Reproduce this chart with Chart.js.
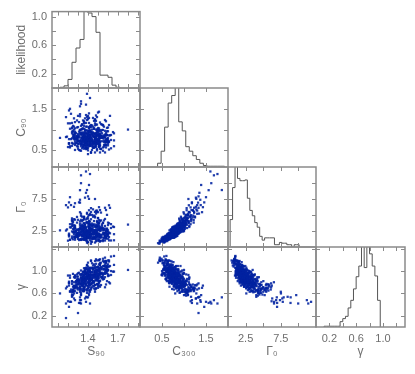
<!DOCTYPE html>
<html>
<head>
<meta charset="UTF-8">
<title>Corner plot</title>
<script src="https://cdn.jsdelivr.net/npm/chart.js"></script>
<style>
  body { margin: 0; background: #fff; }
  #wrap { position: relative; width: 415px; height: 374px; }
  #wrap canvas { position: absolute; left: 0; top: 0; }
</style>
</head>
<body>
<div id="wrap"></div>
<script>
// ---- chain samples, one entry per sample, same order in every array ----
const S90 = [
  1.43,1.40,1.47,1.44,1.52,1.55,1.57,1.31,1.33,1.39, 1.43,1.52,1.49,1.61,1.22,1.32,1.30,1.40,1.40,1.39,
  1.66,1.27,1.35,1.36,1.45,1.41,1.49,1.48,1.53,1.51, 1.37,1.37,1.38,1.47,1.46,1.51,1.51,1.63,1.22,1.34,
  1.39,1.45,1.42,1.53,1.57,1.20,1.33,1.33,1.38,1.37, 1.58,1.58,1.29,1.31,1.38,1.36,1.44,1.45,1.45,1.56,
  1.27,1.35,1.33,1.42,1.37,1.47,1.44,1.52,1.52,1.24, 1.42,1.42,1.51,1.50,1.56,1.58,1.30,1.29,1.40,1.37,
  1.49,1.48,1.60,1.24,1.27,1.39,1.36,1.42,1.41,1.48, 1.25,1.37,1.36,1.42,1.39,1.48,1.49,1.49,1.60,1.61,
  1.40,1.39,1.47,1.43,1.52,1.51,1.60,1.21,1.33,1.35, 1.41,1.51,1.50,1.59,1.21,1.32,1.30,1.39,1.37,1.42,
  1.57,1.29,1.33,1.34,1.44,1.42,1.47,1.46,1.54,1.52, 1.35,1.34,1.39,1.37,1.45,1.47,1.47,1.61,1.21,1.31,
  1.42,1.51,1.47,1.58,1.58,1.27,1.29,1.38,1.40,1.39, 1.56,1.57,1.26,1.28,1.37,1.34,1.43,1.40,1.46,1.44,
  1.36,1.38,1.38,1.48,1.45,1.51,1.50,1.59,1.59,1.31, 1.39,1.44,1.42,1.51,1.53,1.56,1.29,1.30,1.37,1.36,
  1.50,1.48,1.60,1.21,1.30,1.29,1.38,1.39,1.38,1.48, 1.26,1.35,1.35,1.43,1.40,1.48,1.46,1.52,1.51,1.63,
  1.36,1.35,1.45,1.42,1.49,1.48,1.59,1.19,1.32,1.30, 1.48,1.47,1.56,1.60,1.24,1.36,1.36,1.41,1.40,1.48,
  1.55,1.27,1.28,1.35,1.33,1.42,1.42,1.42,1.52,1.51, 1.40,1.39,1.47,1.43,1.52,1.50,1.57,1.58,1.30,1.34,
  1.40,1.50,1.48,1.55,1.57,1.28,1.28,1.38,1.36,1.42, 1.47,1.59,1.23,1.26,1.37,1.35,1.41,1.39,1.47,1.44,
  1.36,1.35,1.41,1.39,1.47,1.48,1.48,1.59,1.60,1.29, 1.37,1.43,1.40,1.50,1.48,1.58,1.18,1.31,1.32,1.33,
  1.54,1.54,1.62,1.25,1.35,1.34,1.42,1.41,1.45,1.44, 1.26,1.30,1.31,1.41,1.39,1.44,1.43,1.51,1.49,1.61,
  1.39,1.45,1.42,1.51,1.52,1.53,1.66,1.27,1.36,1.36, 1.49,1.46,1.56,1.57,1.26,1.27,1.37,1.38,1.38,1.47,
  1.56,1.25,1.27,1.36,1.33,1.42,1.39,1.45,1.43,1.53, 1.37,1.37,1.47,1.44,1.50,1.49,1.58,1.58,1.30,1.31,
  1.41,1.40,1.48,1.51,1.53,1.26,1.28,1.34,1.34,1.41, 1.51,1.63,1.25,1.33,1.33,1.41,1.43,1.41,1.52,1.49,
  1.32,1.32,1.40,1.37,1.45,1.43,1.49,1.48,1.60,1.24, 1.41,1.50,1.48,1.54,1.54,1.65,1.25,1.37,1.36,1.42,
  1.45,1.55,1.59,1.22,1.35,1.34,1.40,1.39,1.46,1.43, 1.26,1.27,1.34,1.32,1.41,1.41,1.41,1.51,1.50,1.59,
  1.38,1.46,1.42,1.51,1.49,1.56,1.57,1.29,1.33,1.34, 1.45,1.44,1.50,1.52,1.24,1.24,1.33,1.32,1.38,1.35,
  1.60,1.25,1.27,1.39,1.36,1.42,1.41,1.48,1.46,1.55, 1.30,1.36,1.34,1.42,1.43,1.43,1.54,1.55,1.24,1.26,
  1.47,1.44,1.53,1.52,1.61,1.22,1.34,1.36,1.36,1.46, 1.49,1.58,1.20,1.31,1.29,1.38,1.36,1.41,1.39,1.48,
  1.26,1.27,1.37,1.35,1.40,1.39,1.47,1.45,1.57,1.18, 1.41,1.38,1.47,1.48,1.49,1.62,1.23,1.32,1.32,1.40,
  1.41,1.50,1.51,1.21,1.22,1.32,1.33,1.33,1.42,1.39, 1.18,1.30,1.24,1.58,1.47,1.66,1.38,1.12,1.55,1.80
];
const C300 = [
  0.44,0.41,0.45,0.51,0.45,0.49,0.45,0.51,0.49,0.55, 0.46,0.54,0.50,0.52,0.57,0.50,0.54,0.50,0.56,0.54,
  0.60,0.51,0.59,0.54,0.56,0.60,0.53,0.58,0.53,0.59, 0.56,0.62,0.53,0.61,0.56,0.58,0.62,0.55,0.60,0.55,
  0.61,0.58,0.64,0.54,0.63,0.58,0.60,0.64,0.57,0.61, 0.57,0.63,0.60,0.66,0.56,0.64,0.60,0.62,0.66,0.59,
  0.63,0.58,0.65,0.62,0.68,0.58,0.66,0.61,0.63,0.68, 0.61,0.65,0.60,0.66,0.63,0.69,0.59,0.68,0.63,0.65,
  0.69,0.62,0.66,0.61,0.67,0.64,0.71,0.61,0.69,0.64, 0.66,0.70,0.63,0.67,0.62,0.69,0.66,0.72,0.62,0.70,
  0.65,0.67,0.71,0.64,0.69,0.64,0.70,0.67,0.73,0.63, 0.71,0.66,0.68,0.72,0.66,0.70,0.65,0.71,0.68,0.74,
  0.64,0.72,0.67,0.69,0.74,0.67,0.71,0.66,0.72,0.69, 0.75,0.65,0.73,0.68,0.71,0.75,0.68,0.72,0.67,0.73,
  0.70,0.76,0.66,0.74,0.70,0.72,0.76,0.69,0.73,0.68, 0.74,0.71,0.77,0.67,0.76,0.71,0.73,0.77,0.70,0.74,
  0.69,0.75,0.72,0.78,0.69,0.77,0.72,0.74,0.78,0.71, 0.75,0.70,0.76,0.73,0.80,0.70,0.78,0.73,0.75,0.79,
  0.72,0.76,0.71,0.77,0.74,0.81,0.71,0.79,0.74,0.76, 0.80,0.73,0.77,0.72,0.78,0.75,0.82,0.72,0.80,0.75,
  0.77,0.81,0.74,0.78,0.73,0.79,0.76,0.83,0.73,0.81, 0.76,0.78,0.82,0.75,0.79,0.74,0.80,0.77,0.84,0.74,
  0.82,0.77,0.79,0.83,0.76,0.80,0.75,0.81,0.79,0.85, 0.75,0.83,0.78,0.80,0.84,0.77,0.81,0.76,0.82,0.80,
  0.86,0.76,0.84,0.79,0.81,0.85,0.78,0.82,0.77,0.83, 0.80,0.87,0.77,0.85,0.80,0.82,0.86,0.79,0.83,0.78,
  0.84,0.81,0.87,0.78,0.86,0.81,0.83,0.87,0.80,0.84, 0.79,0.85,0.82,0.88,0.78,0.87,0.82,0.84,0.88,0.81,
  0.85,0.80,0.86,0.83,0.89,0.79,0.87,0.83,0.85,0.89, 0.82,0.86,0.81,0.87,0.84,0.90,0.80,0.88,0.84,0.86,
  0.90,0.83,0.87,0.82,0.88,0.85,0.91,0.81,0.89,0.85, 0.87,0.91,0.84,0.88,0.83,0.89,0.86,0.92,0.82,0.90,
  0.86,0.88,0.92,0.85,0.89,0.84,0.90,0.87,0.94,0.84, 0.92,0.87,0.89,0.93,0.86,0.91,0.86,0.92,0.89,0.95,
  0.85,0.93,0.89,0.91,0.95,0.88,0.92,0.87,0.93,0.91, 0.97,0.87,0.95,0.90,0.92,0.97,0.90,0.94,0.89,0.95,
  0.92,0.99,0.89,0.97,0.92,0.94,0.98,0.92,0.96,0.91, 0.97,0.94,1.00,0.91,0.99,0.94,0.96,1.00,0.93,0.98,
  0.93,0.99,0.96,1.02,0.92,1.01,0.96,0.98,1.02,0.95, 1.00,0.95,1.01,0.98,1.04,0.95,1.03,0.98,1.00,1.04,
  0.98,1.02,0.97,1.03,1.00,1.07,0.97,1.05,1.00,1.02, 1.07,1.00,1.04,0.99,1.05,1.03,1.09,0.99,1.07,1.03,
  1.05,1.09,1.03,1.07,1.02,1.09,1.06,1.12,1.03,1.11, 1.06,1.09,1.13,1.06,1.11,1.06,1.12,1.10,1.16,1.07,
  1.15,1.10,1.13,1.17,1.11,1.15,1.11,1.17,1.15,1.21, 1.12,1.20,1.15,1.18,1.22,1.16,1.20,1.16,1.23,1.21,
  1.27,1.18,1.27,1.22,1.25,1.30,1.23,1.28,1.23,1.30, 1.28,1.35,1.25,1.34,1.30,1.33,1.38,1.32,1.37,1.33,
  1.39,1.41,1.43,1.46,1.50,1.56,1.62,1.68,1.76,1.86, 2.30,1.33,0.95,0.62,1.10,0.74,1.60,0.80,0.57,1.00
];
const GAMMA0 = [
  0.51,0.60,0.70,0.81,0.88,0.92,1.01,1.08,1.25,0.68, 0.85,0.90,0.99,1.03,1.12,1.19,1.27,1.47,0.80,0.92,
  1.05,1.14,1.19,1.25,1.32,1.42,1.57,0.89,0.98,1.06, 1.18,1.23,1.34,1.42,1.52,1.69,0.92,1.02,1.14,1.20,
  1.32,1.39,1.47,1.57,1.74,0.99,1.10,1.18,1.25,1.32, 1.48,1.57,1.68,1.86,1.02,1.13,1.21,1.33,1.40,1.46,
  1.62,1.74,1.99,1.09,1.21,1.30,1.37,1.45,1.51,1.64, 1.86,2.06,1.12,1.25,1.34,1.42,1.50,1.61,1.69,1.79,
  2.13,1.16,1.29,1.38,1.47,1.55,1.66,1.74,1.84,1.98, 1.20,1.33,1.43,1.51,1.59,1.71,1.80,1.90,2.03,2.26,
  1.37,1.47,1.56,1.64,1.76,1.85,1.95,2.09,2.32,1.27, 1.51,1.60,1.69,1.76,1.90,2.01,2.15,2.39,1.30,1.45,
  1.65,1.74,1.81,1.90,2.06,2.21,2.46,1.34,1.49,1.60, 1.79,1.86,1.95,2.06,2.28,2.53,1.38,1.54,1.65,1.75,
  1.92,2.02,2.13,2.28,2.60,1.42,1.58,1.69,1.79,1.89, 2.07,2.19,2.34,2.60,1.46,1.62,1.75,1.85,1.95,2.03,
  2.25,2.42,2.68,1.46,1.66,1.79,1.89,2.00,2.08,2.18, 2.48,2.75,1.50,1.66,1.84,1.95,2.05,2.14,2.25,2.38,
  2.82,1.54,1.71,1.84,1.95,2.10,2.19,2.30,2.43,2.61, 1.58,1.75,1.88,1.99,2.10,2.19,2.36,2.50,2.68,2.97,
  1.80,1.94,2.05,2.16,2.25,2.36,2.50,2.75,3.05,1.66, 1.99,2.10,2.22,2.31,2.43,2.56,2.75,3.05,1.71,1.90,
  2.16,2.28,2.37,2.49,2.63,2.82,3.13,1.71,1.94,2.09, 2.33,2.43,2.55,2.70,2.89,3.21,1.75,1.94,2.09,2.27,
  2.49,2.61,2.76,2.96,3.29,1.79,1.99,2.14,2.27,2.39, 2.61,2.84,3.05,3.38,1.84,2.05,2.20,2.33,2.46,2.56,
  2.84,3.05,3.38,1.89,2.10,2.25,2.38,2.52,2.62,2.75, 3.12,3.46,1.89,2.10,2.25,2.44,2.57,2.68,2.81,2.97,
  3.54,1.93,2.14,2.30,2.44,2.57,2.68,2.89,3.05,3.27, 1.98,2.20,2.37,2.50,2.64,2.75,2.89,3.05,3.34,3.71,
  2.25,2.42,2.56,2.70,2.81,2.95,3.12,3.34,3.71,2.07, 2.48,2.62,2.76,2.88,3.02,3.20,3.43,3.80,2.07,2.30,
  2.68,2.82,2.94,3.09,3.26,3.50,3.88,2.12,2.41,2.59, 2.89,3.01,3.16,3.34,3.58,4.07,2.22,2.46,2.65,2.80,
  3.08,3.23,3.50,3.75,4.16,2.27,2.52,2.71,2.87,3.09, 3.38,3.57,3.83,4.25,2.32,2.63,2.83,2.99,3.16,3.29,
  3.65,4.00,4.44,2.42,2.69,2.89,3.06,3.29,3.43,3.60, 4.08,4.53,2.47,2.80,3.01,3.19,3.36,3.50,3.68,3.97,
  4.73,2.58,2.86,3.08,3.26,3.50,3.65,3.83,4.05,4.34, 2.68,2.98,3.20,3.39,3.57,3.80,3.99,4.22,4.52,5.02,
  3.10,3.34,3.53,3.72,3.88,4.15,4.38,4.70,5.21,2.84, 3.47,3.67,3.87,4.03,4.23,4.47,4.89,5.43,2.96,3.35,
  3.81,4.02,4.27,4.48,4.74,5.18,5.74,3.13,3.54,3.81, 4.25,4.51,4.74,5.01,5.47,6.07,3.31,3.74,4.02,4.34,
  4.77,5.01,5.38,5.77,6.52,3.56,4.02,4.33,4.65,4.91, 5.46,5.77,6.19,6.98,3.81,4.30,4.63,4.98,5.34,5.66,
  6.28,6.84,7.71,4.20,4.75,5.19,5.49,5.88,6.13,6.54, 7.52,8.47,4.62,5.22,5.69,6.12,6.55,6.93,7.38,7.91,
  9.69,5.44,6.22,6.97,7.78,8.88,9.97,11.2,11.4,8.90, 15.0,14.0,3.30,1.30,7.50,2.00,11.8,2.60,1.10,3.50
];
const GAMMA = [
  1.19,1.15,1.18,1.14,1.21,1.22,1.24,0.97,0.93,1.10, 1.18,1.14,1.19,1.19,0.92,0.94,0.96,1.00,1.08,1.11,
  1.27,0.92,0.99,0.97,1.04,1.03,1.02,1.21,1.15,1.20, 1.02,0.99,1.03,0.99,1.06,1.04,1.19,1.26,0.88,0.95,
  1.05,1.02,1.06,1.04,1.12,0.92,0.94,1.01,0.96,1.00, 1.15,1.15,0.85,0.83,1.06,1.05,1.05,1.10,1.04,1.09,
  0.90,0.86,0.88,1.00,1.05,1.05,1.06,1.13,1.10,0.81, 0.98,0.93,1.12,1.08,1.16,1.18,0.85,0.94,0.90,0.94,
  1.00,1.13,1.19,0.82,0.92,0.93,0.93,0.99,0.92,0.96, 0.95,0.94,0.99,0.95,1.03,1.01,1.01,1.07,1.02,1.08,
  1.02,0.98,1.01,0.98,1.05,1.05,1.08,0.81,0.77,0.98, 1.05,1.01,1.07,1.06,0.79,0.81,0.82,0.88,0.98,1.00,
  1.18,0.81,0.89,0.86,0.93,0.92,0.90,1.12,1.06,1.11, 0.90,0.87,0.92,0.87,0.94,0.92,1.09,1.17,0.78,0.85,
  0.99,0.96,1.00,0.97,1.06,0.88,0.90,0.97,0.91,0.95, 1.04,1.03,0.74,0.72,0.96,0.94,0.94,0.99,0.93,0.98,
  0.86,0.83,0.86,0.99,1.04,1.02,1.03,1.10,1.07,0.79, 0.90,0.84,1.05,1.00,1.07,1.09,0.76,0.85,0.81,0.86,
  0.92,1.06,1.12,0.74,0.84,0.84,0.85,0.91,0.85,0.89, 0.89,0.87,0.91,0.87,0.95,0.94,0.94,1.00,0.95,1.00,
  0.93,0.89,0.92,0.89,0.97,0.97,1.00,0.72,0.68,0.90, 1.01,0.98,1.03,1.02,0.77,0.79,0.79,0.84,0.95,0.97,
  1.09,0.72,0.79,0.77,0.84,0.83,0.81,1.04,0.96,1.01, 0.89,0.86,0.90,0.86,0.92,0.91,1.08,1.16,0.76,0.83,
  0.92,0.88,0.93,0.89,0.98,0.81,0.82,0.89,0.84,0.88, 0.98,0.96,0.67,0.64,0.89,0.87,0.87,0.93,0.87,0.92,
  0.79,0.76,0.79,0.92,0.97,0.96,0.96,1.03,1.01,0.72, 0.82,0.76,0.97,0.92,1.00,1.02,0.69,0.78,0.73,0.77,
  0.89,1.03,1.09,0.72,0.82,0.82,0.83,0.88,0.82,0.86, 0.80,0.78,0.83,0.79,0.87,0.85,0.86,0.92,0.87,0.92,
  0.93,0.89,0.92,0.88,0.96,0.96,0.99,0.72,0.67,0.89, 0.95,0.91,0.96,0.95,0.69,0.71,0.72,0.77,0.88,0.91,
  1.03,0.66,0.73,0.70,0.78,0.76,0.74,0.98,0.90,0.95, 0.83,0.79,0.83,0.79,0.86,0.83,1.01,1.09,0.70,0.77,
  0.84,0.81,0.84,0.80,0.89,0.73,0.75,0.81,0.75,0.79, 0.95,0.93,0.63,0.61,0.87,0.84,0.84,0.89,0.83,0.89,
  0.70,0.66,0.69,0.83,0.88,0.87,0.87,0.94,0.91,0.62, 0.79,0.73,0.96,0.90,0.97,0.99,0.67,0.76,0.71,0.74,
  0.80,0.95,1.01,0.63,0.73,0.73,0.73,0.79,0.73,0.77, 0.72,0.69,0.75,0.71,0.77,0.76,0.76,0.82,0.77,0.82,
  0.83,0.79,0.82,0.78,0.86,0.86,0.89,0.61,0.57,0.80, 0.82,0.78,0.83,0.82,0.56,0.58,0.58,0.63,0.75,0.77,
  0.94,0.57,0.64,0.61,0.68,0.66,0.65,0.89,0.81,0.85, 0.67,0.64,0.68,0.63,0.70,0.67,0.87,0.93,0.54,0.60,
  0.75,0.71,0.75,0.72,0.80,0.64,0.65,0.72,0.65,0.69, 0.77,0.76,0.46,0.43,0.69,0.67,0.67,0.71,0.65,0.69,
  0.51,0.48,0.51,0.64,0.69,0.67,0.67,0.74,0.71,0.42, 0.60,0.54,0.75,0.69,0.76,0.78,0.45,0.53,0.48,0.53,
  0.57,0.70,0.74,0.36,0.45,0.43,0.42,0.48,0.42,0.53, 0.16,0.25,0.64,1.17,0.63,1.11,0.45,0.60,1.18,1.02
];

// ---- marginal histograms: bin edges and bin heights ----
const S90_EDGES = [1.12,1.16,1.20,1.24,1.28,1.32,1.36,1.40,1.44,1.48,1.52,1.56,1.60,1.64,1.68,1.72];
const S90_HIST  = [0.01,0.03,0.12,0.36,0.56,0.68,1.10,1.05,1.00,0.78,0.18,0.18,0.15,0.04,0.01];
const C300_EDGES = [0.40,0.48,0.56,0.64,0.72,0.80,0.88,0.96,1.04,1.12,1.20,1.28,1.36,1.44,1.52,1.60,1.68,1.76,1.84,1.92];
const C300_HIST  = [0.05,0.21,0.53,0.85,0.95,1.10,0.60,0.48,0.27,0.21,0.15,0.10,0.05,0.02,0.01,0.01,0.01,0.01,0.01];
const G0_EDGES = [0.30,0.65,1.00,1.35,1.70,2.05,2.40,2.75,3.10,3.45,3.80,4.15,4.50,4.85,5.20,5.55,5.90,6.25,6.60,6.95,7.30,7.65,8.00,8.35,8.70,9.05,9.40,9.75,10.1];
const G0_HIST  = [0.36,0.78,1.10,0.90,0.87,0.87,0.88,0.64,0.48,0.41,0.32,0.26,0.14,0.09,0.12,0.12,0.12,0.12,0.03,0.03,0.06,0.05,0.05,0.03,0.03,0.00,0.03,0.03];
const GAM_EDGES = [0.12,0.16,0.20,0.24,0.28,0.32,0.36,0.40,0.44,0.48,0.52,0.56,0.60,0.64,0.68,0.72,0.76,0.80,0.84,0.88,0.92,0.96];
const GAM_HIST  = [0.01,0.01,0.01,0.01,0.01,0.01,0.07,0.11,0.14,0.25,0.35,0.50,0.66,0.80,1.10,0.78,1.10,0.96,0.80,0.67,0.35];

// ---- axes: ranges, minor tick positions, labelled ticks ----
const S90_RANGE = [1.04, 1.92], S90_TICKS = [1.1,1.2,1.3,1.4,1.5,1.6,1.7,1.8,1.9], S90_LABELS = [1.4, 1.7];
const C300_RANGE = [0, 2.0],   C300_TICKS = [0.5,1.0,1.5],                       C300_LABELS = [0.5, 1.5];
const C90_RANGE = [0.1, 2.0],  C90_TICKS = [0.5,1.0,1.5],                        C90_LABELS = [0.5, 1.5];
const G0_RANGE = [0, 12.5],    G0_TICKS = [2.5,5,7.5,10],                        G0_LABELS = [2.5, 7.5];
const GX_RANGE = [0, 1.33],    GX_TICKS = [0.2,0.4,0.6,0.8,1.0,1.2],             GX_LABELS = [0.2, 0.6, 1.0];
const GY_RANGE = [0, 1.43],    GY_TICKS = [0.2,0.6,1.0,1.4],                     GY_LABELS = [0.2, 0.6, 1.0];
const LIKE_RANGE = [0, 1.07],  LIKE_TICKS = [0.2,0.4,0.6,0.8,1.0],               LIKE_LABELS = [0.2, 0.6, 1.0];
const HIST_RANGE = [0, 1.05];

const W = 415, H = 374;
const colEdge = [52, 140, 228, 316, 405];
const rowEdge = [9, 88, 167, 247, 327];
const TEXT = '#6e6e6e', FRAME = '#8a8a8a', HISTLINE = '#555555', DOT = 'rgba(0,34,160,0.88)';

const xAxes = [
  { range: S90_RANGE, ticks: S90_TICKS, labels: S90_LABELS, title: 'S\u2089\u2080' },
  { range: C300_RANGE, ticks: C300_TICKS, labels: C300_LABELS, title: 'C\u2083\u2080\u2080' },
  { range: G0_RANGE, ticks: G0_TICKS, labels: G0_LABELS, title: '\u0393\u2080' },
  { range: GX_RANGE, ticks: GX_TICKS, labels: GX_LABELS, title: '\u03b3' }
];
const yAxes = [
  { range: LIKE_RANGE, ticks: LIKE_TICKS, labels: LIKE_LABELS, title: 'likelihood' },
  { range: C90_RANGE, ticks: C90_TICKS, labels: C90_LABELS, title: 'C\u2089\u2080' },
  { range: G0_RANGE, ticks: G0_TICKS, labels: G0_LABELS, title: '\u0393\u2080' },
  { range: GY_RANGE, ticks: GY_TICKS, labels: GY_LABELS, title: '\u03b3' }
];
const samples = [S90, C300, GAMMA0, GAMMA];
const hists = [[S90_EDGES, S90_HIST], [C300_EDGES, C300_HIST], [G0_EDGES, G0_HIST], [GAM_EDGES, GAM_HIST]];

// inward ticks on all four sides plus the box
const framePlugin = {
  id: 'frame',
  afterDatasetsDraw(chart, args, opts) {
    const { ctx, chartArea: a } = chart;
    const xs = chart.scales.x, ys = chart.scales.yt || chart.scales.y;
    const TL = 4;
    ctx.save();
    ctx.strokeStyle = FRAME;
    ctx.lineWidth = 1;
    ctx.beginPath();
    opts.xTicks.forEach(v => {
      const p = Math.round(xs.getPixelForValue(v)) + 0.5;
      ctx.moveTo(p, a.bottom); ctx.lineTo(p, a.bottom - TL);
      ctx.moveTo(p, a.top); ctx.lineTo(p, a.top + TL);
    });
    opts.yTicks.forEach(v => {
      const p = Math.round(ys.getPixelForValue(v)) + 0.5;
      ctx.moveTo(a.left, p); ctx.lineTo(a.left + TL, p);
      ctx.moveTo(a.right, p); ctx.lineTo(a.right - TL, p);
    });
    ctx.stroke();
    ctx.lineWidth = 1.5;
    ctx.strokeRect(a.left, a.top, a.right - a.left, a.bottom - a.top);
    ctx.restore();
  }
};

function axisOptions(ax, show, horizontal) {
  return {
    type: 'linear',
    min: ax.range[0], max: ax.range[1],
    grid: { display: false, drawTicks: false, tickLength: 0 },
    border: { display: false },
    ticks: {
      display: show, autoSkip: false, maxRotation: 0, color: TEXT,
      padding: 5,
      font: { family: 'Liberation Sans', size: 11 },
      callback: v => v.toFixed(1)
    },
    afterBuildTicks: s => { s.ticks = ax.labels.map(v => ({ value: v })); },
    title: {
      display: show, text: ax.title, color: TEXT,
      font: { family: 'Liberation Sans', size: 12 },
      padding: horizontal ? { top: 0, bottom: 15 } : { top: 14, bottom: 0 }
    },
    afterFit: s => {
      if (horizontal) s.height = show ? H - rowEdge[4] : 0;
      else s.width = show ? colEdge[0] : 0;
    }
  };
}

const wrap = document.getElementById('wrap');

function panel(col, row, datasets, diag) {
  const cv = document.createElement('canvas');
  cv.width = W; cv.height = H;
  cv.style.width = W + 'px'; cv.style.height = H + 'px';
  wrap.appendChild(cv);
  const showX = row === 3, showY = col === 0;
  const xa = xAxes[col], ya = yAxes[row];
  const histY = diag && row > 0;
  const scales = {
    x: axisOptions(xa, showX, true),
    y: histY ? axisOptions({ range: HIST_RANGE, labels: [], title: '' }, false, false)
             : axisOptions(ya, showY, false)
  };
  if (histY) {
    scales.yt = { type: 'linear', position: 'right', display: false, min: ya.range[0], max: ya.range[1] };
  }
  new Chart(cv, {
    type: 'scatter',
    data: { datasets },
    options: {
      responsive: false, animation: false, devicePixelRatio: 1, events: [],
      layout: { padding: {
        left: showY ? 0 : colEdge[col],
        right: W - colEdge[col + 1],
        top: rowEdge[row],
        bottom: showX ? 0 : H - rowEdge[row + 1]
      } },
      plugins: {
        legend: { display: false }, tooltip: { enabled: false },
        frame: { xTicks: xa.ticks, yTicks: ya.ticks }
      },
      scales
    },
    plugins: [framePlugin]
  });
}

function histData(edges, heights) {
  const pts = [{ x: edges[0], y: 0 }];
  heights.forEach((h, i) => pts.push({ x: edges[i], y: h }));
  pts.push({ x: edges[edges.length - 1], y: 0 });
  return pts;
}

for (let row = 0; row < 4; row++) {
  for (let col = 0; col <= row; col++) {
    if (col === row) {
      const [e, h] = hists[col];
      panel(col, row, [{
        data: histData(e, h), showLine: true, stepped: 'before',
        borderColor: HISTLINE, borderWidth: 1, pointRadius: 0, fill: false
      }], true);
    } else {
      const xs = samples[col], ys = samples[row];
      panel(col, row, [{
        data: xs.map((v, i) => ({ x: v, y: ys[i] })),
        pointStyle: 'rect', pointRadius: 1.6, borderWidth: 0,
        backgroundColor: DOT
      }], false);
    }
  }
}
</script>
</body>
</html>
